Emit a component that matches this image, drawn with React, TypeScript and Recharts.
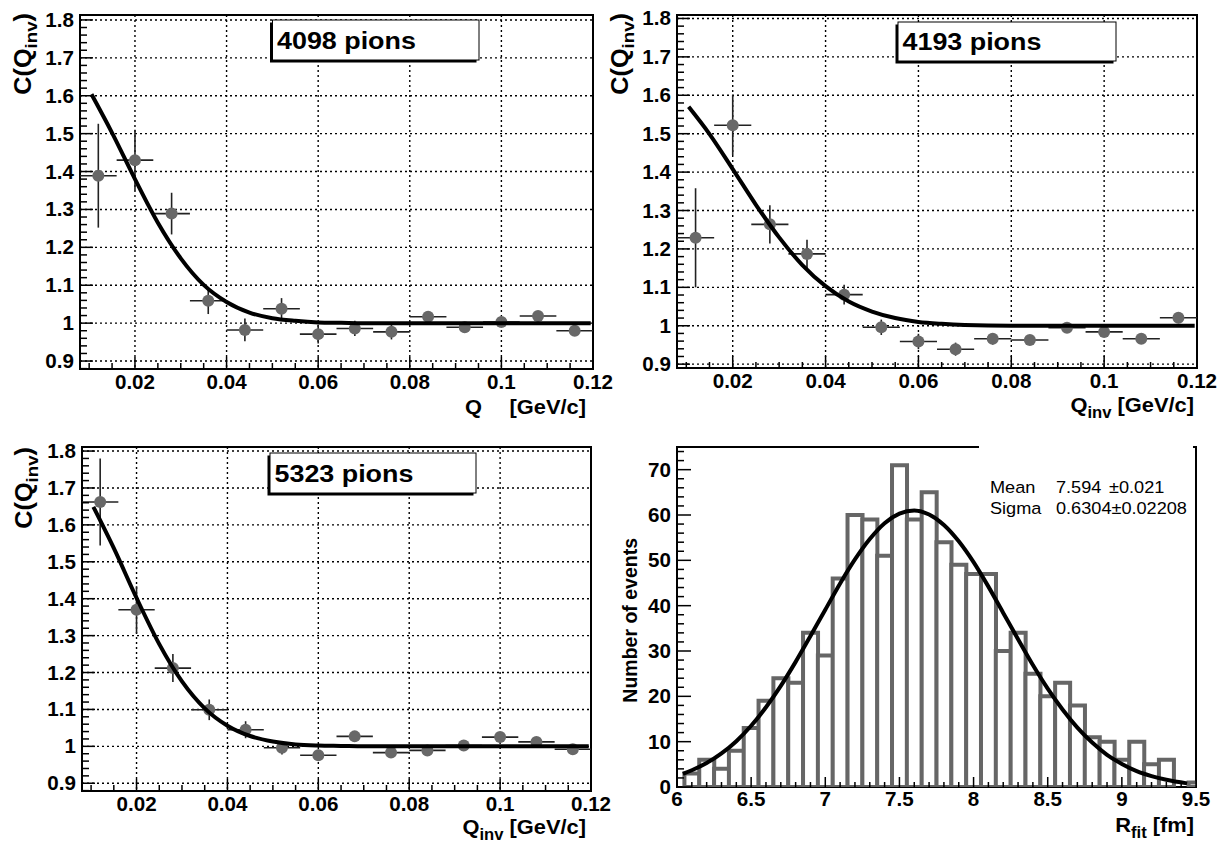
import React from 'react';
import {
  ScatterChart,
  ComposedChart,
  Scatter,
  Bar,
  XAxis,
  YAxis,
  ErrorBar,
  CartesianGrid,
  ReferenceArea,
} from 'recharts';

const FONT = "'Liberation Sans', Arial, Helvetica, sans-serif";

// ---------- correlation-function panels ----------
const qBins = [0.012, 0.02, 0.028, 0.036, 0.044, 0.052, 0.06, 0.068, 0.076, 0.084, 0.092, 0.1, 0.108, 0.116];
const qHalfWidth = [0.004, 0.004, 0.004, 0.004, 0.004, 0.004, 0.004, 0.004, 0.004, 0.004, 0.004, 0.004, 0.004, 0.004];

const c4098 = [1.389, 1.43, 1.289, 1.059, 0.982, 1.038, 0.971, 0.986, 0.977, 1.017, 0.989, 1.003, 1.019, 0.98];
const e4098 = [0.137, 0.08, 0.055, 0.035, 0.03, 0.028, 0.025, 0.02, 0.02, 0.015, 0.012, 0.012, 0.01, 0.01];

const c4193 = [1.229, 1.522, 1.264, 1.187, 1.081, 0.996, 0.959, 0.939, 0.966, 0.963, 0.995, 0.984, 0.966, 1.021];
const e4193 = [0.129, 0.078, 0.05, 0.037, 0.026, 0.02, 0.02, 0.017, 0.015, 0.01, 0.01, 0.01, 0.01, 0.01];

const c5323 = [1.662, 1.37, 1.212, 1.099, 1.045, 0.996, 0.976, 1.027, 0.983, 0.989, 1.002, 1.025, 1.012, 0.992];
const e5323 = [0.118, 0.064, 0.038, 0.028, 0.023, 0.018, 0.015, 0.013, 0.012, 0.01, 0.01, 0.01, 0.01, 0.01];

// fitted curves
const fitQ = [0.0105, 0.015, 0.02, 0.025, 0.03, 0.035, 0.04, 0.045, 0.05, 0.055, 0.06, 0.065, 0.07, 0.08, 0.1, 0.1195];
const fit4098 = [1.604, 1.502, 1.38, 1.265, 1.171, 1.101, 1.056, 1.028, 1.013, 1.006, 1.002, 1.001, 1.0, 1.0, 1.0, 1.0];
const fit4193 = [1.57, 1.499, 1.408, 1.315, 1.23, 1.158, 1.103, 1.063, 1.037, 1.02, 1.01, 1.005, 1.002, 1.0, 1.0, 1.0];
const fit5323 = [1.649, 1.537, 1.402, 1.277, 1.176, 1.103, 1.056, 1.028, 1.013, 1.005, 1.002, 1.001, 1.0, 1.0, 1.0, 1.0];

const qDomain = [0.008, 0.12];
const qMajor = [0.02, 0.04, 0.06, 0.08, 0.1, 0.12];
const qMinor = [0.01, 0.015, 0.025, 0.03, 0.035, 0.045, 0.05, 0.055, 0.065, 0.07, 0.075, 0.085, 0.09, 0.095, 0.105, 0.11, 0.115];
const cMajor = [0.9, 1, 1.1, 1.2, 1.3, 1.4, 1.5, 1.6, 1.7, 1.8];
const cMinor = [
  0.88, 0.92, 0.94, 0.96, 0.98, 1.02, 1.04, 1.06, 1.08, 1.12, 1.14, 1.16, 1.18, 1.22, 1.24, 1.26, 1.28,
  1.32, 1.34, 1.36, 1.38, 1.42, 1.44, 1.46, 1.48, 1.52, 1.54, 1.56, 1.58, 1.62, 1.64, 1.66, 1.68,
  1.72, 1.74, 1.76, 1.78,
];

// ---------- R_fit histogram ----------
const histR = [
  6.1, 6.2, 6.3, 6.4, 6.5, 6.6, 6.7, 6.8, 6.9, 7.0, 7.1, 7.2, 7.3, 7.4, 7.5, 7.6, 7.7, 7.8, 7.9, 8.0,
  8.1, 8.2, 8.3, 8.4, 8.5, 8.6, 8.7, 8.8, 8.9, 9.0, 9.1, 9.2, 9.3, 9.4, 9.5,
];
const histN = [
  3, 6, 4, 8, 13, 19, 24, 23, 34, 29, 46, 60, 59, 51, 71, 59, 65, 54, 49, 47,
  47, 30, 34, 25, 20, 23, 18, 11, 10, 6, 10, 5, 6, 0, 1,
];
const gausR = [
  6.04, 6.1, 6.2, 6.3, 6.4, 6.5, 6.6, 6.7, 6.8, 6.9, 7.0, 7.1, 7.2, 7.3, 7.4, 7.5, 7.6, 7.7, 7.8, 7.9,
  8.0, 8.1, 8.2, 8.3, 8.4, 8.5, 8.6, 8.7, 8.8, 8.9, 9.0, 9.1, 9.2, 9.3, 9.44,
];
const gausN = [
  2.9, 3.7, 5.3, 7.4, 10.1, 13.5, 17.6, 22.3, 27.6, 33.3, 39.1, 44.9, 50.2, 54.7, 58.2, 60.3, 61.0, 60.1, 57.8, 54.2,
  49.6, 44.2, 38.4, 32.6, 26.9, 21.7, 17.1, 13.1, 9.8, 7.1, 5.1, 3.5, 2.4, 1.6, 0.8,
];
const rMajor = [6, 6.5, 7, 7.5, 8, 8.5, 9, 9.5];
const rMinor = [
  6.1, 6.2, 6.3, 6.4, 6.6, 6.7, 6.8, 6.9, 7.1, 7.2, 7.3, 7.4, 7.6, 7.7, 7.8, 7.9, 8.1, 8.2, 8.3, 8.4,
  8.6, 8.7, 8.8, 8.9, 9.1, 9.2, 9.3, 9.4,
];
const nMajor = [0, 10, 20, 30, 40, 50, 60, 70];
const nMinor = [
  2, 4, 6, 8, 12, 14, 16, 18, 22, 24, 26, 28, 32, 34, 36, 38, 42, 44, 46, 48, 52, 54, 56, 58, 62, 64, 66, 68, 72, 74,
];

// ---------- helpers ----------
function STxt({ x, y, sx = 1, rot = 0, anchor = 'start', size = 20, weight = 700, children }: any) {
  return (
    <g transform={`translate(${x},${y}) rotate(${rot}) scale(${sx},1)`}>
      <text x={0} y={0} textAnchor={anchor} fontFamily={FONT} fontWeight={weight} fontSize={size} fill="#000">
        {children}
      </text>
    </g>
  );
}

const isIn = (arr: number[], v: number) => arr.some((m) => Math.abs(m - v) < 1e-9);

function makeXTick(majors: number[], majorLen: number, minorLen: number, labelDy: number) {
  return (props: any) => {
    const { x, y, payload } = props;
    const v = payload.value;
    const major = isIn(majors, v);
    return (
      <g>
        <line x1={x} y1={y} x2={x} y2={y - (major ? majorLen : minorLen)} stroke="#000" strokeWidth={1.5} />
        {major && (
          <STxt x={x} y={y + labelDy} anchor="middle" size={20} sx={1.03}>
            {String(v)}
          </STxt>
        )}
      </g>
    );
  };
}

function makeYTick(majors: number[], majorLen: number, minorLen: number, labelDx: number) {
  return (props: any) => {
    const { x, y, payload } = props;
    const v = payload.value;
    const major = isIn(majors, v);
    return (
      <g>
        <line x1={x} y1={y} x2={x + (major ? majorLen : minorLen)} y2={y} stroke="#000" strokeWidth={1.5} />
        {major && (
          <STxt x={x - labelDx} y={y + 7} anchor="end" size={20} sx={1.03}>
            {String(v)}
          </STxt>
        )}
      </g>
    );
  };
}

const dot = (props: any) => <circle cx={props.cx} cy={props.cy} r={6} fill="#686868" />;
const noDot = () => <g />;

type Frame = { l: number; r: number; t: number; b: number };

function QPanel({
  left,
  top,
  w,
  h,
  frame,
  yDomain,
  cs,
  es,
  fit,
}: {
  left: number;
  top: number;
  w: number;
  h: number;
  frame: Frame;
  yDomain: number[];
  cs: number[];
  es: number[];
  fit: number[];
}) {
  const points = qBins.map((q, i) => ({ q, c: cs[i], ec: es[i], eq: qHalfWidth[i] }));
  const curve = fitQ.map((q, i) => ({ q, c: fit[i] }));
  const cTicks = [...cMajor, ...cMinor].filter((t) => t >= yDomain[0] && t <= yDomain[1]);
  return (
    <div style={{ position: 'absolute', left, top, width: w, height: h }}>
      <ScatterChart
        width={w}
        height={h}
        margin={{ top: frame.t - top, right: left + w - frame.r, bottom: 0, left: 0 }}
      >
        <CartesianGrid
          horizontalValues={cMajor}
          verticalValues={qMajor}
          stroke="#000"
          strokeWidth={1.4}
          strokeDasharray="2 3"
        />
        <XAxis
          type="number"
          dataKey="q"
          domain={qDomain}
          allowDataOverflow
          ticks={[...qMajor, ...qMinor]}
          interval={0}
          height={top + h - frame.b}
          axisLine={false}
          tickLine={false}
          tickSize={0}
          tickMargin={0}
          tick={makeXTick(qMajor, 12, 6, 20)}
        />
        <YAxis
          type="number"
          dataKey="c"
          domain={yDomain}
          allowDataOverflow
          ticks={cTicks}
          interval={0}
          width={frame.l - left}
          axisLine={false}
          tickLine={false}
          tickSize={0}
          tickMargin={0}
          tick={makeYTick(cMajor, 13, 7, 6)}
        />
        <Scatter data={points} shape={dot} isAnimationActive={false}>
          <ErrorBar dataKey="ec" direction="y" width={0} stroke="#222" strokeWidth={1.6} isAnimationActive={false} />
          <ErrorBar dataKey="eq" direction="x" width={0} stroke="#222" strokeWidth={1.6} isAnimationActive={false} />
        </Scatter>
        <Scatter
          data={curve}
          shape={noDot}
          line={{ stroke: '#000', strokeWidth: 4 }}
          lineJointType="monotoneX"
          isAnimationActive={false}
        />
        <ReferenceArea
          x1={qDomain[0]}
          x2={qDomain[1]}
          y1={yDomain[0]}
          y2={yDomain[1]}
          fill="none"
          fillOpacity={0}
          stroke="#000"
          strokeWidth={2}
          ifOverflow="visible"
        />
      </ScatterChart>
    </div>
  );
}

function HistPanel() {
  const left = 610;
  const top = 420;
  const w = 610;
  const h = 424;
  const frame = { l: 677, r: 1196, t: 447, b: 787 };
  const bars = histR.map((r, i) => ({ r, n: histN[i] }));
  const gaus = gausR.map((r, i) => ({ r, n: gausN[i] }));
  return (
    <div style={{ position: 'absolute', left, top, width: w, height: h }}>
      <ComposedChart
        width={w}
        height={h}
        data={bars}
        barCategoryGap={0}
        barGap={0}
        margin={{ top: frame.t - top, right: left + w - frame.r, bottom: 0, left: 0 }}
      >
        <XAxis
          type="number"
          dataKey="r"
          domain={[6, 9.5]}
          allowDataOverflow
          ticks={[...rMajor, ...rMinor]}
          interval={0}
          height={top + h - frame.b}
          axisLine={false}
          tickLine={false}
          tickSize={0}
          tickMargin={0}
          tick={makeXTick(rMajor, 10, 5, 19)}
        />
        <XAxis xAxisId="fit" type="number" dataKey="r" domain={[6, 9.5]} allowDataOverflow hide />
        <YAxis
          type="number"
          domain={[0, 75]}
          allowDataOverflow
          ticks={[...nMajor, ...nMinor]}
          interval={0}
          width={frame.l - left}
          axisLine={false}
          tickLine={false}
          tickSize={0}
          tickMargin={0}
          tick={makeYTick(nMajor, 14, 7, 6)}
        />
        <Bar dataKey="n" fill="#fff" stroke="#666" strokeWidth={4} isAnimationActive={false} />
        <Scatter
          xAxisId="fit"
          data={gaus}
          dataKey="n"
          shape={noDot}
          line={{ stroke: '#000', strokeWidth: 4 }}
          lineJointType="monotoneX"
          isAnimationActive={false}
        />
        <ReferenceArea
          x1={6}
          x2={9.5}
          y1={0}
          y2={75}
          fill="none"
          fillOpacity={0}
          stroke="#000"
          strokeWidth={2}
          ifOverflow="visible"
        />
      </ComposedChart>
    </div>
  );
}

function Pave({ x, y, w, h, text }: { x: number; y: number; w: number; h: number; text: string }) {
  return (
    <g>
      <rect x={x - 2.5} y={y + 2.5} width={w} height={h} fill="#000" />
      <rect x={x} y={y} width={w} height={h} fill="#fff" stroke="#000" strokeWidth={1} />
      <STxt x={x + 4.5} y={y + h - 11} size={24} sx={1.12}>
        {text}
      </STxt>
    </g>
  );
}

function YTitleC({ x, y }: { x: number; y: number }) {
  return (
    <STxt x={x} y={y} rot={-90} anchor="end" size={23} sx={1.1}>
      C(Q<tspan fontSize={17} dy={6}>inv</tspan>
      <tspan dy={-6}>)</tspan>
    </STxt>
  );
}

function Overlay() {
  return (
    <svg
      width={1220}
      height={844}
      style={{ position: 'absolute', left: 0, top: 0, pointerEvents: 'none' }}
    >
      {/* labels in the correlation panels */}
      <Pave x={272.5} y={20} w={206.5} h={40} text="4098 pions" />
      <Pave x={898} y={22} w={218} h={39} text="4193 pions" />
      <Pave x={270} y={453} w={206} h={40} text="5323 pions" />

      {/* y titles */}
      <YTitleC x={31} y={13} />
      <YTitleC x={628} y={13} />
      <YTitleC x={32} y={447} />
      <STxt x={637} y={538} rot={-90} anchor="end" size={19.5}>
        Number of events
      </STxt>

      {/* x titles */}
      <STxt x={465} y={414} size={21} sx={1.04}>
        Q
      </STxt>
      <STxt x={586} y={414} anchor="end" size={21} sx={1.04}>
        [GeV/c]
      </STxt>
      <STxt x={1194} y={412} anchor="end" size={21} sx={1.04}>
        Q<tspan fontSize={16} dy={6}>inv</tspan>
        <tspan dy={-6}> [GeV/c]</tspan>
      </STxt>
      <STxt x={586} y={834} anchor="end" size={21} sx={1.04}>
        Q<tspan fontSize={16} dy={6}>inv</tspan>
        <tspan dy={-6}> [GeV/c]</tspan>
      </STxt>
      <STxt x={1194} y={832} anchor="end" size={21} sx={1.04}>
        R<tspan fontSize={16} dy={6}>fit</tspan>
        <tspan dy={-6}> [fm]</tspan>
      </STxt>

      {/* fit statistics box */}
      <rect x={979} y={440} width={214} height={85} fill="#fff" />
      <STxt x={990} y={493} size={16.5} weight={400} sx={1.1}>
        Mean
      </STxt>
      <STxt x={1056} y={493} size={16.5} weight={400} sx={1.1}>
        7.594
      </STxt>
      <STxt x={1109} y={493} size={16.5} weight={400} sx={1.1}>
        ±0.021
      </STxt>
      <STxt x={990} y={514} size={16.5} weight={400} sx={1.1}>
        Sigma
      </STxt>
      <STxt x={1056} y={514} size={16.5} weight={400} sx={1.1}>
        0.6304±0.02208
      </STxt>
    </svg>
  );
}

export default function App() {
  return (
    <div
      style={{
        position: 'absolute',
        left: 0,
        top: 0,
        width: 1220,
        height: 844,
        background: '#fff',
        overflow: 'hidden',
      }}
    >
      <QPanel
        left={0}
        top={0}
        w={625}
        h={420}
        frame={{ l: 80, r: 593, t: 15, b: 369 }}
        yDomain={[0.879, 1.813]}
        cs={c4098}
        es={e4098}
        fit={fit4098}
      />
      <QPanel
        left={610}
        top={0}
        w={610}
        h={420}
        frame={{ l: 677, r: 1197, t: 15, b: 368 }}
        yDomain={[0.89, 1.809]}
        cs={c4193}
        es={e4193}
        fit={fit4193}
      />
      <QPanel
        left={0}
        top={420}
        w={625}
        h={424}
        frame={{ l: 82, r: 591, t: 447, b: 791 }}
        yDomain={[0.879, 1.811]}
        cs={c5323}
        es={e5323}
        fit={fit5323}
      />
      <HistPanel />
      <Overlay />
    </div>
  );
}
